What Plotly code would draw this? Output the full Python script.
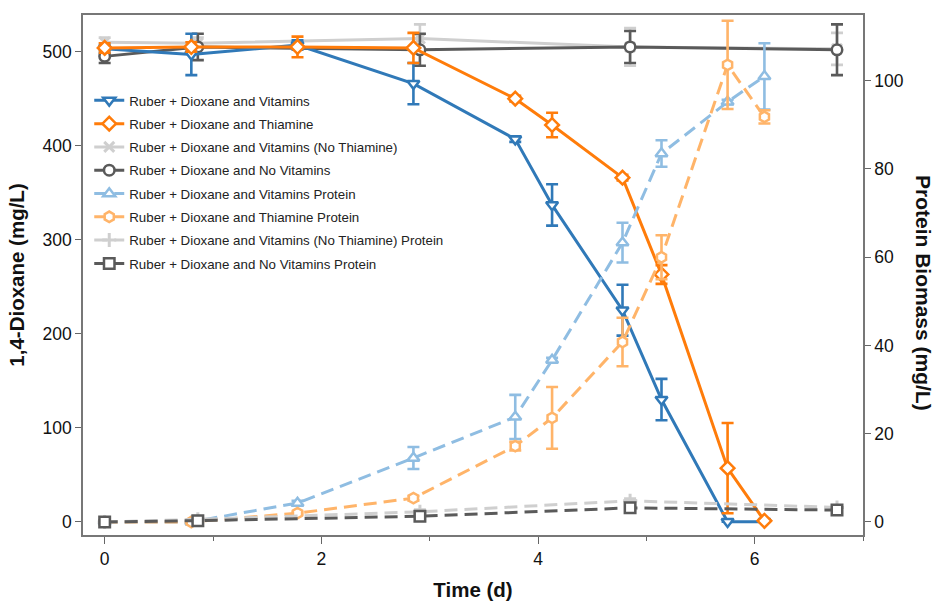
import plotly.graph_objects as go

# ---- data ----
x_main = [0, 0.80, 1.78, 2.85, 3.79, 4.13, 4.78, 5.14, 5.75, 6.09]
x_ctrl = [0, 0.86, 2.91, 4.85, 6.76]

vit_diox = [503, 497, 507, 466, 407, 337, 225, 130, 0, 0]
vit_diox_err = [4, 22, 5, 22, 3, 22, 27, 22, 0, 0]
thi_diox = [504, 505, 505, 504, 450, 422, 366, 263, 57, 1]
thi_diox_err = [5, 5, 11, 16, 3, 13, 3, 10, 48, 1]
vnt_diox = [510, 509, 514, 505, 503]
vnt_diox_err = [5, 6, 15, 20, 17]
nov_diox = [495, 505, 502, 505, 502]
nov_diox_err = [7, 14, 17, 17, 27]

vit_prot = [0, 0, 4.3, 14.5, 23.8, 36.7, 63.3, 83.5, 95.2, 101]
vit_prot_err = [0.3, 0.3, 0.5, 2.5, 5, 0.5, 4.5, 3, 0.5, 7.5]
thi_prot = [0, 0, 2, 5.4, 17.2, 23.6, 40.8, 60, 103.6, 91.8]
thi_prot_err = [0.3, 0.3, 0.3, 0.5, 1, 7, 5.5, 5, 10, 1.5]
vnt_prot = [0, 0.6, 2.3, 4.8, 3.3]
vnt_prot_err = [0.3, 0.3, 0.5, 0.5, 0.5]
nov_prot = [0, 0.3, 1.3, 3.2, 2.7]
nov_prot_err = [0.3, 0.3, 0.3, 0.4, 0.4]

names = [
    "Ruber + Dioxane and Vitamins",
    "Ruber + Dioxane and Thiamine",
    "Ruber + Dioxane and Vitamins (No Thiamine)",
    "Ruber + Dioxane and No Vitamins",
    "Ruber + Dioxane and Vitamins Protein",
    "Ruber + Dioxane and Thiamine Protein",
    "Ruber + Dioxane and Vitamins (No Thiamine) Protein",
    "Ruber + Dioxane and No Vitamins Protein",
]

BLUE = "#3079b8"
ORANGE = "#ff7c0a"
LGRAY = "#cfcfcf"
DGRAY = "#5a5a5a"
LBLUE = "#8fbde2"
LORANGE = "#ffb469"

FONT = "Liberation Sans, Arial, sans-serif"
TICK = 17.5
TITLE = 20.5

series = [
    (x_main, vit_diox, vit_diox_err, BLUE, "triangle-down", "solid", "y"),
    (x_main, thi_diox, thi_diox_err, ORANGE, "diamond", "solid", "y"),
    (x_ctrl, vnt_diox, vnt_diox_err, LGRAY, "x-thin", "solid", "y"),
    (x_ctrl, nov_diox, nov_diox_err, DGRAY, "circle", "solid", "y"),
    (x_main, vit_prot, vit_prot_err, LBLUE, "triangle-up", "13px,7px", "y2"),
    (x_main, thi_prot, thi_prot_err, LORANGE, "hexagon", "13px,7px", "y2"),
    (x_ctrl, vnt_prot, vnt_prot_err, LGRAY, "cross-thin", "13px,7px", "y2"),
    (x_ctrl, nov_prot, nov_prot_err, DGRAY, "square", "13px,7px", "y2"),
]

fig = go.Figure()
# draw protein first so dioxane lines sit above, but keep legend order
order = [4, 5, 6, 7, 2, 3, 0, 1]
for i in order:
    xs, ys, es, col, sym, dash, ax = series[i]
    thin = sym.endswith("thin")
    fig.add_trace(go.Scatter(
        x=xs, y=ys, yaxis=ax, name=names[i], legendrank=i + 1,
        legendgroup=f"g{i}",
        mode="lines+markers",
        line=dict(color=col, width=3, dash=dash),
        marker=dict(symbol=sym, size=10.5 if not thin else 10,
                    color=col if thin else "white",
                    line=dict(color=col, width=3 if thin else 2.5)),
        error_y=dict(type="data", array=es, visible=True, color=col,
                     thickness=2.6, width=6),
    ))

fig.update_layout(
    width=938, height=601,
    margin=dict(l=83, r=75, t=15, b=66, autoexpand=False),
    paper_bgcolor="white", plot_bgcolor="white",
    font=dict(family=FONT, color="#111"),
    showlegend=True,
    legend=dict(x=0.008, y=0.865, xanchor="left", yanchor="top",
                bgcolor="rgba(0,0,0,0)", font=dict(size=13.3, color="#222"),
                traceorder="grouped", tracegroupgap=3, itemwidth=30),
    xaxis=dict(range=[-0.2, 7.0], tickvals=[0, 2, 4, 6], ticks="outside",
               automargin=False,
               ticklen=7, tickwidth=1.2, tickcolor="#666",
               minor=dict(dtick=1, tick0=0, ticks="outside", ticklen=4,
                          tickcolor="#666", showgrid=False),
               showline=True, linecolor="#777", linewidth=1.5, mirror=True,
               showgrid=False, zeroline=False,
               tickfont=dict(size=TICK, color="#111"),
               title=dict(text="Time (d)", standoff=16,
                          font=dict(size=TITLE, weight="bold", color="#111"))),
    yaxis=dict(range=[-14.1, 539], tickvals=[0, 100, 200, 300, 400, 500],
               automargin=False,
               ticks="outside", ticklen=6, tickwidth=1.2, tickcolor="#666",
               showline=True, linecolor="#777", linewidth=1.5,
               showgrid=False, zeroline=False,
               tickfont=dict(size=TICK, color="#111"),
               title=dict(text="1,4-Dioxane (mg/L)", standoff=12,
                          font=dict(size=TITLE, weight="bold", color="#111"))),
    yaxis2=dict(range=[-2.95, 114.9], overlaying="y", side="right",
                automargin=False,
                tickvals=[0, 20, 40, 60, 80, 100],
                ticks="outside", ticklen=6, tickwidth=1.2, tickcolor="#666",
                showline=True, linecolor="#777", linewidth=1.5,
                showgrid=False, zeroline=False,
                tickfont=dict(size=TICK, color="#111")),
    annotations=[dict(text="Protein Biomass (mg/L)", textangle=90,
                      xref="paper", yref="paper", x=1.0785, y=0.465,
                      xanchor="center", yanchor="middle", showarrow=False,
                      font=dict(size=21, weight="bold", color="#111",
                                family=FONT))],
)

fig.write_html("out.html", config={"displayModeBar": False},
               post_script="document.body.style.margin='0';"
                           "document.body.style.overflow='hidden';")
